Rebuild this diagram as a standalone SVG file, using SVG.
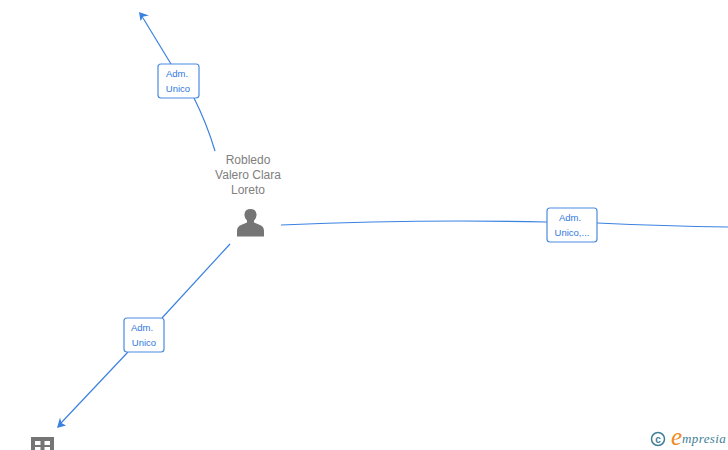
<svg xmlns="http://www.w3.org/2000/svg" width="728" height="450" viewBox="0 0 728 450">
<style>
.c{fill:none;stroke:#3b82e0;stroke-width:1.2}
.a{fill:#3b82e0}
.b{fill:#fff;stroke:#4a8be2;stroke-width:1.2}
.l{font:9.5px "Liberation Sans",Arial,sans-serif;fill:#2f78e0;text-anchor:middle}
.n{font:12px "Liberation Sans",Arial,sans-serif;fill:#808080;text-anchor:middle}
.g{fill:#757575}
</style>
<rect width="728" height="450" fill="#fff"/>
<g id="connectors">
<path class="c" d="M215 151Q207 124 194 98"/>
<path class="c" d="M171 64L143 18"/>
<path class="a" d="M139 12L149 15.500L143.500 16.500L140.500 21Z"/>
<path class="c" d="M281 225Q420 219 547 222"/>
<path class="c" d="M597 223Q665 226 728 227"/>
<path class="c" d="M230 244L162 318"/>
<path class="c" d="M128 352L61 423"/>
<path class="a" d="M57 428L60 417.500L61.500 423L66 425.500Z"/>
</g>
<g id="edge-label-1"><rect class="b" x="158" y="64" width="41" height="34" rx="3"/><text class="l" x="177" y="77">Adm.</text><text class="l" x="178" y="92">Unico</text></g>
<g id="edge-label-2"><rect class="b" x="547" y="208" width="50" height="34" rx="3"/><text class="l" x="570" y="221">Adm.</text><text class="l" x="572" y="236">Unico,...</text></g>
<g id="edge-label-3"><rect class="b" x="124" y="318" width="40" height="34" rx="3"/><text class="l" x="142" y="331">Adm.</text><text class="l" x="144" y="346">Unico</text></g>
<g id="person-node">
<text class="n" x="248" y="164">Robledo</text><text class="n" x="248" y="179">Valero Clara</text><text class="n" x="248" y="194">Loreto</text>
<path class="g" d="M237 236.500V231Q237 226.500 241 225L247 222.500V220.500Q244 217.500 244.500 214Q245 209 250.500 209Q256 209 256.500 214Q257 217.500 254 220.500V222.500L260 225Q264 226.500 264 231V236.500Z"/>
</g>
<g id="company-node">
<path class="g" fill-rule="evenodd" d="M31 450V437H54V450ZM35 441V445H40.500V441ZM44.500 441V445H50V441ZM35 447V450H40.500V447ZM44.500 447V450H50V447Z"/>
</g>
<g id="watermark">
<circle cx="658" cy="439" r="6.500" fill="none" stroke="#3f7f96" stroke-width="1.500"/>
<text x="658" y="442.500" font-family="Liberation Sans,sans-serif" font-size="10" font-weight="bold" fill="#3f7f96" text-anchor="middle">c</text>
<text x="671" y="445" font-family="Liberation Serif,serif" font-style="italic" font-size="25" fill="#f08a1d">e</text>
<text x="682" y="443" font-family="Liberation Serif,serif" font-style="italic" font-size="13" fill="#3f7f96" letter-spacing=".4">mpresia</text>
</g>
</svg>
